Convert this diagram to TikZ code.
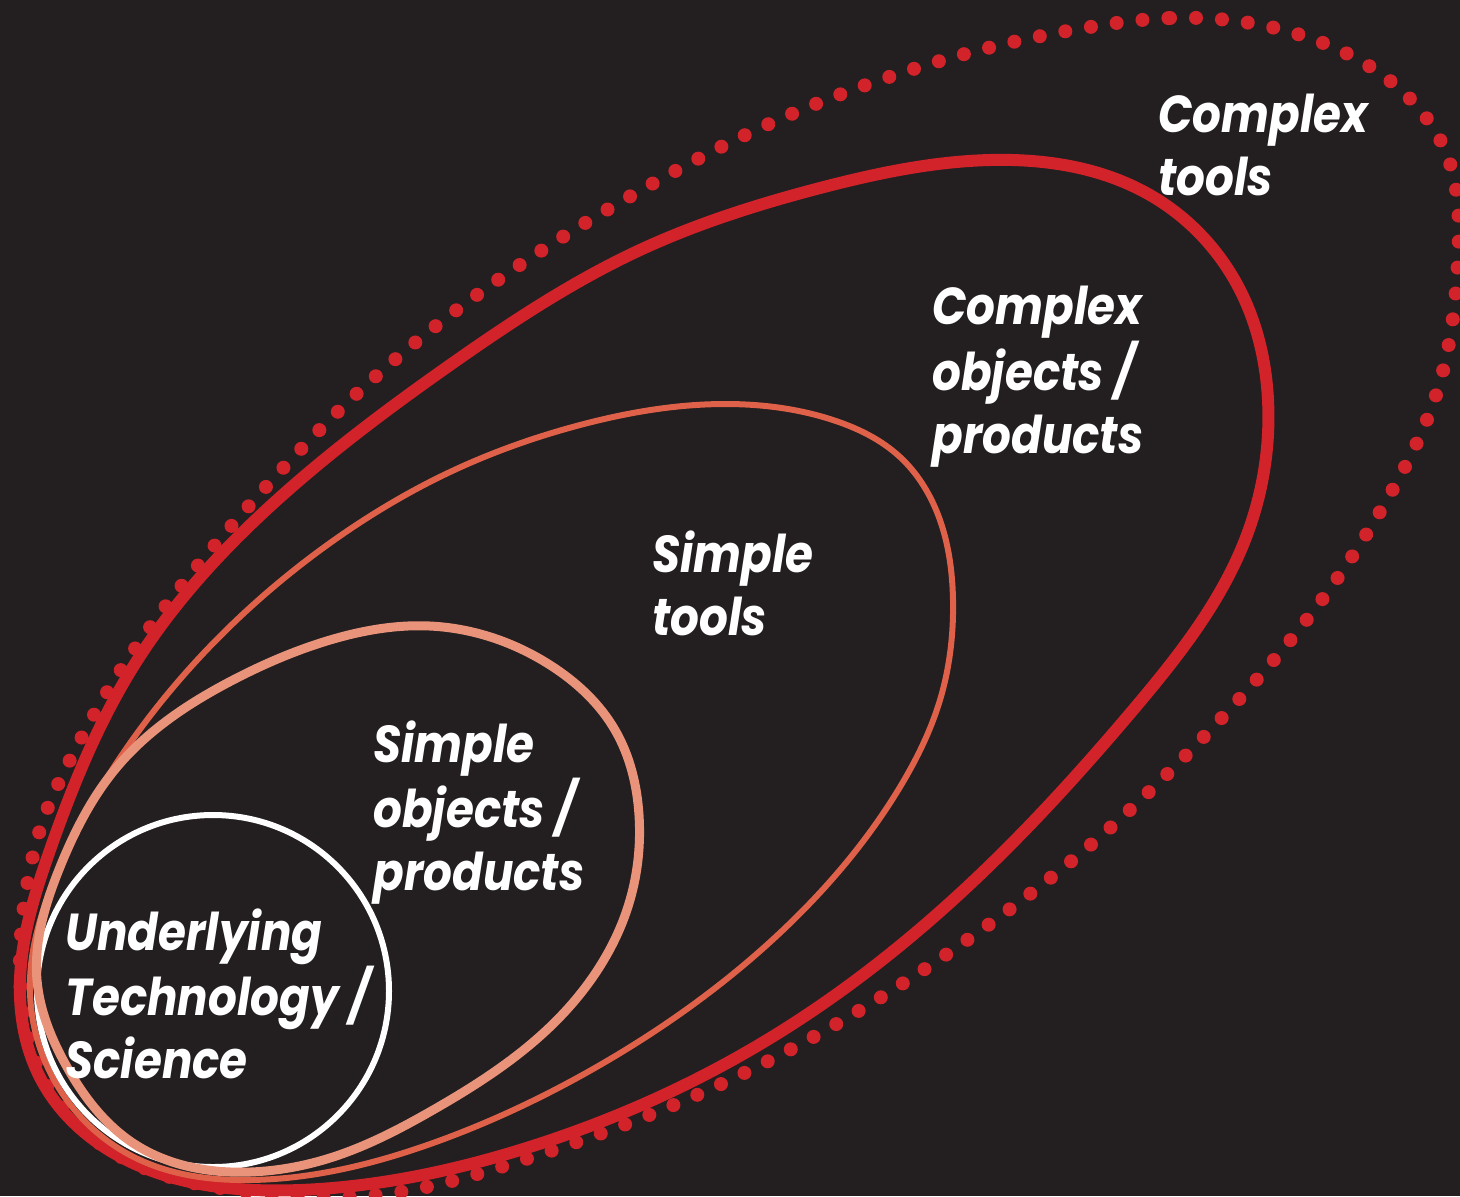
\documentclass[tikz,border=0pt]{standalone}
\usepackage{fontspec}
\usetikzlibrary{hobby}
\newfontfamily\labelfont{Poppins}[FakeStretch=0.87]
\definecolor{bg}{HTML}{231F20}
\definecolor{deepred}{HTML}{D2232A}
\definecolor{toolred}{HTML}{DF6149}
\definecolor{peach}{HTML}{E8937A}
\tikzset{
  lbl/.style={anchor=north west, inner sep=0pt, align=left, text=white,
    font=\labelfont\bfseries\itshape\fontsize{26}{31.5}\selectfont},
  ring/.style={line join=round}
}
\begin{document}
\begin{tikzpicture}[x=0.5pt, y=-0.5pt]
  \useasboundingbox (0,0) rectangle (1460,1196);
  \fill[bg] (0,0) rectangle (1460,1196);

  % outer dotted boundary: complex tools
  \draw[deepred, line width=7pt, line cap=round, dash pattern=on 0pt off 13pt, closed hobby]
    plot coordinates {
      (1170,18) (1294,33) (1389,80) (1447,155) (1458,260) (1437,392)
      (1393,489) (1321,601) (1216,724) (1102,835) (977,933) (850,1016)
      (708,1090) (507,1165) (377,1195) (250,1192) (133,1163) (45,1082)
      (20,975) (28,880) (45,815) (65,770) (117,676) (179,589) (248,507)
      (350,400) (450,315) (550,245) (650,185) (760,128) (880,80) (1000,45)
      (1090,27)};

  % complex objects / products
  \draw[ring, deepred, line width=6pt, closed hobby]
    plot coordinates {
      (990,160) (1150,195) (1240,290) (1268,400) (1245,540) (1133,710)
      (967,887) (767,1040) (520,1150) (300,1190) (133,1163) (43,1083)
      (20,980) (50,850) (133,667) (277,500) (450,365) (640,250) (820,188)};

  % simple tools
  \draw[ring, toolred, line width=3pt, closed hobby]
    plot coordinates {
      (727,404) (833,420) (900,457) (933,503) (953,600) (940,700)
      (900,787) (783,930) (600,1065) (433,1143) (250,1180) (140,1160)
      (60,1090) (30,980) (53,883) (110,773) (200,657) (330,543) (450,472)
      (580,425)};

  % underlying technology / science
  \draw[white, line width=3pt] (213,991) circle [radius=176];

  % simple objects / products
  \draw[ring, peach, line width=4.5pt, closed hobby]
    plot coordinates {
      (430,626) (550,665) (615,730) (639,815) (630,900) (557,1020)
      (433,1110) (333,1157) (250,1172) (133,1143) (67,1067) (37,980)
      (60,867) (117,767) (233,680) (330,640)};

  \node[lbl] (ct) at (1158,94) {Complex\\tools};
  \node[lbl] (cop) at (932,286) {Complex\\objects /\\products};
  \node[lbl] (st) at (652,530) {Simple\\tools};
  \node[lbl] (sop) at (373,720) {Simple\\objects /\\products};
  \node[lbl] (uts) at (65,908) {Underlying\\Technology /\\Science};
\end{tikzpicture}
\end{document}
